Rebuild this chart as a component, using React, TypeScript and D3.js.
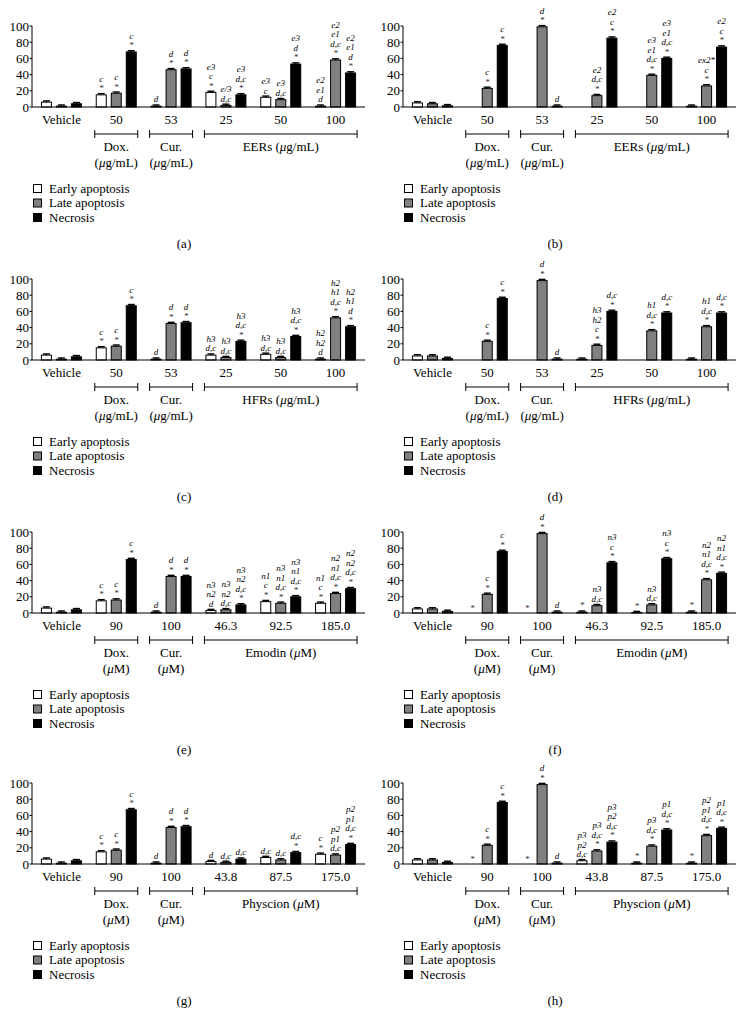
import React from "react";
import * as d3 from "d3";

const SERIES = ["Early apoptosis", "Late apoptosis", "Necrosis"];
const SERIES_FILL = ["#ffffff", "#808080", "#000000"];
const Y_TICKS = [0, 20, 40, 60, 80, 100];
const ERR = 1.5;

const CATS_EER = ["Vehicle", "50", "53", "25", "50", "100"];
const CATS_HFR = ["Vehicle", "50", "53", "25", "50", "100"];
const CATS_EMO = ["Vehicle", "90", "100", "46.3", "92.5", "185.0"];
const CATS_PHY = ["Vehicle", "90", "100", "43.8", "87.5", "175.0"];

const TREAT_EER = [
  { from: 1, to: 1, lines: ["Dox.", "(μg/mL)"] },
  { from: 2, to: 2, lines: ["Cur.", "(μg/mL)"] },
  { from: 3, to: 5, lines: ["EERs (μg/mL)"] },
];
const TREAT_HFR = [
  { from: 1, to: 1, lines: ["Dox.", "(μg/mL)"] },
  { from: 2, to: 2, lines: ["Cur.", "(μg/mL)"] },
  { from: 3, to: 5, lines: ["HFRs (μg/mL)"] },
];
const TREAT_EMO = [
  { from: 1, to: 1, lines: ["Dox.", "(μM)"] },
  { from: 2, to: 2, lines: ["Cur.", "(μM)"] },
  { from: 3, to: 5, lines: ["Emodin (μM)"] },
];
const TREAT_PHY = [
  { from: 1, to: 1, lines: ["Dox.", "(μM)"] },
  { from: 2, to: 2, lines: ["Cur.", "(μM)"] },
  { from: 3, to: 5, lines: ["Physcion (μM)"] },
];

// values per group: Vehicle, Dox, Cur, dose1, dose2, dose3
const earlyA = [6, 15, 1, 18, 12, 1];
const lateA = [1, 17, 46, 2, 9, 58];
const necA = [4, 68, 47, 15, 53, 42];

const earlyB = [5, 0, 0, 0, 0, 1];
const lateB = [4, 23, 99, 14, 39, 26];
const necB = [1.5, 76, 1, 85, 60, 74];

const earlyC = [6, 15, 1, 6, 7, 1];
const lateC = [1, 17, 45, 3, 3, 52];
const necC = [4, 67, 46, 23, 29, 41];

const earlyD = [5, 0, 0, 1, 0, 1];
const lateD = [5, 23, 98, 18, 36, 41];
const necD = [2, 76, 1, 60, 58, 58];

const earlyE = [6, 15, 1, 3, 14, 12];
const lateE = [1, 16, 45, 4, 12, 24];
const necE = [4, 66, 45, 10, 20, 30];

const earlyF = [5, 0, 0, 1, 0.5, 1];
const lateF = [5, 23, 98, 9, 10, 41];
const necF = [2, 76, 1, 62, 67, 49];

const earlyG = [6, 15, 1, 3, 8, 12];
const lateG = [1, 17, 45, 2, 5, 11];
const necG = [4, 67, 46, 6, 14, 24];

const earlyH = [5, 0, 0, 4, 1, 1];
const lateH = [5, 23, 98, 16, 22, 35];
const necH = [2, 76, 1, 27, 42, 44];

// annotations [group][series] -> lines from top to bottom
const annA = [
  [[], [], []],
  [["c", "*"], ["c", "*"], ["c", "*"]],
  [["d"], ["d", "*"], ["d", "*"]],
  [["e3", "c", "*"], ["e/3", "d,c"], ["e3", "d,c", "*"]],
  [["e3", "c"], ["e3", "d,c"], ["e3", "d", "*"]],
  [["e2", "e1", "d"], ["e2", "e1", "d,c", "*"], ["e2", "e1", "d", "*"]],
];
const annB = [
  [[], [], []],
  [[], ["c", "*"], ["c", "*"]],
  [[], ["d", "*"], ["d"]],
  [[], ["e2", "d,c", "*"], ["e2", "c", "*"]],
  [[], ["e3", "e1", "d,c", "*"], ["e3", "e1", "d,c", "*"]],
  [[], ["ex2*", "c", "*"], ["e2", "c", "*"]],
];
const annC = [
  [[], [], []],
  [["c", "*"], ["c", "*"], ["c", "*"]],
  [["d"], ["d", "*"], ["d", "*"]],
  [["h3", "d,c"], ["h3", "d,c"], ["h3", "d,c", "*"]],
  [["h3", "d,c"], ["h3", "d,c"], ["h3", "d,c", "*"]],
  [["h2", "h2", "d"], ["h2", "h1", "d,c", "*"], ["h2", "h1", "d", "*"]],
];
const annD = [
  [[], [], []],
  [[], ["c", "*"], ["c", "*"]],
  [[], ["d", "*"], ["d"]],
  [[], ["h3", "h2", "c", "*"], ["d,c", "*"]],
  [[], ["h1", "d,c", "*"], ["d,c", "*"]],
  [[], ["h1", "d,c", "*"], ["d,c", "*"]],
];
const annE = [
  [[], [], []],
  [["c", "*"], ["c", "*"], ["c", "*"]],
  [["d"], ["d", "*"], ["d", "*"]],
  [["n3", "n2", "d"], ["n3", "n2", "d,c"], ["n3", "n2", "d,c", "*"]],
  [["n1", "c", "*"], ["n3", "n1", "d,c", "*"], ["n3", "n1", "d,c", "*"]],
  [["n1", "c", "*"], ["n2", "n1", "d,c", "*"], ["n2", "n2", "d,c", "*"]],
];
const annF = [
  [[], [], []],
  [["*"], ["c", "*"], ["c", "*"]],
  [["*"], ["d", "*"], ["d"]],
  [["*"], ["n3", "d,c"], ["n3", "c", "*"]],
  [["*"], ["n3", "d,c"], ["n3", "c", "*"]],
  [["*"], ["n2", "n1", "d,c", "*"], ["n2", "n1", "d,c", "*"]],
];
const annG = [
  [[], [], []],
  [["c", "*"], ["c", "*"], ["c", "*"]],
  [["d"], ["d", "*"], ["d", "*"]],
  [["d"], ["d,c"], ["d,c"]],
  [["d,c"], ["d,c"], ["d,c", "*"]],
  [["c", "*"], ["p2", "p1", "d,c"], ["p2", "p1", "d,c", "*"]],
];
const annH = [
  [[], [], []],
  [["*"], ["c", "*"], ["c", "*"]],
  [["*"], ["d", "*"], ["d"]],
  [["p3", "p2", "d,c"], ["p3", "d,c", "*"], ["p3", "p2", "d,c", "*"]],
  [["*"], ["p3", "d,c", "*"], ["p1", "d,c", "*"]],
  [["*"], ["p2", "p1", "d,c", "*"], ["p1", "d,c", "*"]],
];

const PANELS = [
  { label: "(a)", cats: CATS_EER, treat: TREAT_EER, vals: [earlyA, lateA, necA], ann: annA },
  { label: "(b)", cats: CATS_EER, treat: TREAT_EER, vals: [earlyB, lateB, necB], ann: annB },
  { label: "(c)", cats: CATS_HFR, treat: TREAT_HFR, vals: [earlyC, lateC, necC], ann: annC },
  { label: "(d)", cats: CATS_HFR, treat: TREAT_HFR, vals: [earlyD, lateD, necD], ann: annD },
  { label: "(e)", cats: CATS_EMO, treat: TREAT_EMO, vals: [earlyE, lateE, necE], ann: annE },
  { label: "(f)", cats: CATS_EMO, treat: TREAT_EMO, vals: [earlyF, lateF, necF], ann: annF },
  { label: "(g)", cats: CATS_PHY, treat: TREAT_PHY, vals: [earlyG, lateG, necG], ann: annG },
  { label: "(h)", cats: CATS_PHY, treat: TREAT_PHY, vals: [earlyH, lateH, necH], ann: annH },
];

const FONT = "'Liberation Serif', 'Times New Roman', serif";
const COL_X = [0, 371];
const ROW_Y0 = [107, 360, 613, 864];

function MuText({ text, ...rest }: any) {
  const parts = text.split("μ");
  return (
    <text {...rest}>
      {parts.map((p: string, i: number) => (
        <React.Fragment key={i}>
          {i > 0 && <tspan fontStyle="italic">μ</tspan>}
          {p && <tspan>{p}</tspan>}
        </React.Fragment>
      ))}
    </text>
  );
}

function Panel({ p, ox, y0 }: any) {
  const y = d3.scaleLinear().domain([0, 100]).range([y0, y0 - 81]);
  const gx = d3.scaleBand<number>().domain(d3.range(p.cats.length)).range([34, 363]).padding(0);
  const sx = d3.scaleBand<number>().domain([0, 1, 2]).range([-20, 20]).paddingInner(1 / 3).paddingOuter(0);
  const gc = (i: number) => (gx(i) as number) + gx.bandwidth() / 2;
  const bw = sx.bandwidth();
  const lineH = 9.5;

  return (
    <g transform={`translate(${ox},0)`} fontFamily={FONT}>
      {/* y axis */}
      <line x1={32} x2={32} y1={y(100)} y2={y(0)} stroke="#000" strokeWidth={1} />
      {Y_TICKS.map((t) => (
        <g key={t}>
          <line x1={29.5} x2={32} y1={y(t)} y2={y(t)} stroke="#000" strokeWidth={1} />
          <text x={29} y={y(t)} dy="0.35em" textAnchor="end" fontSize={13}>
            {t}
          </text>
        </g>
      ))}
      {/* bars */}
      {p.cats.map((c: string, gi: number) => (
        <g key={gi}>
          {p.vals.map((arr: number[], si: number) => {
            const v = arr[gi];
            const x = gc(gi) + (sx(si) as number) - 20 + 20;
            const xl = gc(gi) + (sx(si) as number);
            const cx = xl + bw / 2;
            const top = v > 0 ? y(v + ERR) : y(0);
            const lines: string[] = p.ann[gi][si];
            return (
              <g key={si}>
                {v > 0 && (
                  <>
                    <rect
                      x={xl}
                      y={y(v)}
                      width={bw}
                      height={y(0) - y(v)}
                      fill={SERIES_FILL[si]}
                      stroke="#000"
                      strokeWidth={1}
                    />
                    <line x1={cx} x2={cx} y1={y(v)} y2={y(v + ERR)} stroke="#000" strokeWidth={1.2} />
                    <line x1={cx - 3.5} x2={cx + 3.5} y1={y(v + ERR)} y2={y(v + ERR)} stroke="#000" strokeWidth={1.4} />
                  </>
                )}
                {lines.map((ln, li) => (
                  <text
                    key={li}
                    x={cx}
                    y={top - 2.5 - (lines.length - 1 - li) * lineH}
                    textAnchor="middle"
                    fontSize={9}
                    fontStyle="italic"
                    fill={ln === "*" ? "#333" : "#000"}
                  >
                    {ln}
                  </text>
                ))}
              </g>
            );
          })}
          <text x={gc(gi)} y={y0 + 17} textAnchor="middle" fontSize={13}>
            {c}
          </text>
        </g>
      ))}
      {/* x axis */}
      <line x1={32} x2={365} y1={y0} y2={y0} stroke="#000" strokeWidth={1.2} />
      {/* treatment brackets */}
      {p.treat.map((t: any, ti: number) => {
        const x1 = gc(t.from) - 21.5;
        const x2 = gc(t.to) + 21.5;
        const by = y0 + 27;
        return (
          <g key={ti}>
            <line x1={x1} x2={x2} y1={by} y2={by} stroke="#000" strokeWidth={1} />
            <line x1={x1} x2={x1} y1={by - 4} y2={by + 4} stroke="#000" strokeWidth={1} />
            <line x1={x2} x2={x2} y1={by - 4} y2={by + 4} stroke="#000" strokeWidth={1} />
            {t.lines.map((ln: string, li: number) => (
              <MuText
                key={li}
                text={ln}
                x={(x1 + x2) / 2}
                y={y0 + 44 + li * 15.5}
                textAnchor="middle"
                fontSize={13}
              />
            ))}
          </g>
        );
      })}
      {/* legend */}
      {SERIES.map((s, si) => (
        <g key={s}>
          <rect
            x={33.5}
            y={y0 + 77.5 + si * 14.5}
            width={8}
            height={8}
            fill={SERIES_FILL[si]}
            stroke="#000"
            strokeWidth={1}
          />
          <text x={49} y={y0 + 85.5 + si * 14.5} fontSize={13}>
            {s}
          </text>
        </g>
      ))}
      <text x={184} y={y0 + 141} textAnchor="middle" fontSize={13}>
        {p.label}
      </text>
    </g>
  );
}

export default function App() {
  return (
    <svg
      width={742}
      height={1027}
      viewBox="0 0 742 1027"
      style={{ position: "absolute", left: 0, top: 0, display: "block", background: "#fff" }}
    >
      <rect x={0} y={0} width={742} height={1027} fill="#fff" />
      {PANELS.map((p, i) => (
        <Panel key={p.label} p={p} ox={COL_X[i % 2]} y0={ROW_Y0[Math.floor(i / 2)]} />
      ))}
    </svg>
  );
}
